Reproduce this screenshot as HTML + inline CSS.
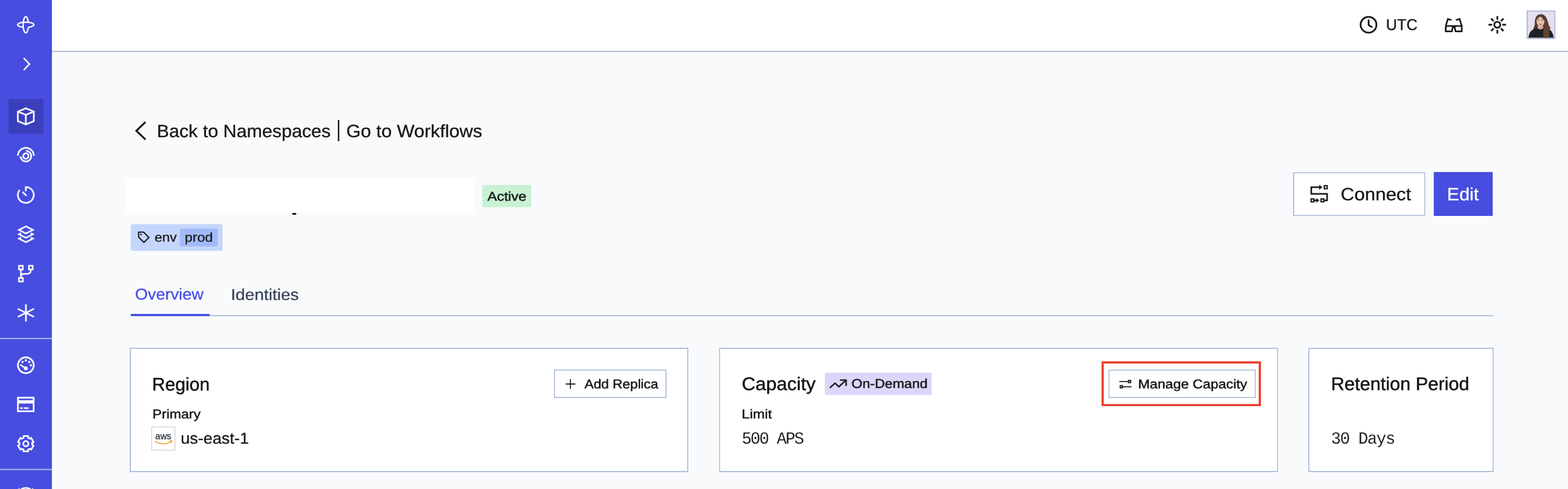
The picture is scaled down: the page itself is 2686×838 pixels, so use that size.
<!DOCTYPE html>
<html lang="en">
<head>
<meta charset="utf-8">
<title>Namespace – Temporal Cloud</title>
<style>
  html,body{margin:0;padding:0;overflow:hidden;}
  body{width:2686px;height:838px;overflow:hidden;position:relative;background:#F8FAFC;
       font-family:"Liberation Sans",sans-serif;color:#141414;}
  nav,header,main,section,div.wrap,h1,h2,p,a,button,ul,li{position:static;margin:0;padding:0;border:0;background:none;font:inherit;color:inherit;text-decoration:none;list-style:none;}
  #stage{position:absolute;left:0;top:0;width:3599.9px;height:1123.1px;overflow:hidden;transform:scale(0.746111);transform-origin:0 0;will-change:transform;}
  #page{position:absolute;left:0;top:0;width:2686px;height:838px;overflow:hidden;zoom:1.340283;}
  .bx{position:absolute;box-sizing:border-box;}
  .t{position:absolute;white-space:pre;line-height:1;text-rendering:geometricPrecision;transform-origin:0 50%;display:block;margin:0;font-weight:400;}
  svg{position:absolute;overflow:visible;display:block;}
  .side-bg{left:0;top:0;width:89px;height:838px;background:#464DDF;}
  .top-bg{left:89px;top:0;width:2597px;height:89px;background:#fff;border-bottom:2px solid #A4B4D6;}
  .btn{background:#fff;border:2px solid #A4B4D6;}
  .card{background:#fff;border:2px solid #A4B4D6;}
  .badge{border-radius:3px;}
</style>
</head>
<body>
<div id="stage"><div id="page">

<!-- ===== Sidebar ===== -->
<nav aria-label="Primary">
  <div class="bx side-bg"></div>
  <svg width="89" height="838" viewBox="0 0 89 838" style="left:0;top:0" aria-hidden="true"><rect x="14.6" y="169.7" width="59.4" height="59.3" fill="#3B3FBC"/><g fill="none" stroke="#fff" stroke-width="2.35"><path d="M48.43 46.68A4.5 13.9 0 1 1 48.43 38.12"/><path d="M48.43 46.68A13.9 4.5 0 1 0 39.87 46.68"/></g><path d="M40.6 99.5L50.5 109.75L40.6 120" fill="none" stroke="#fff" stroke-width="2.5"/><g fill="none" stroke="#fff" stroke-width="2.75" stroke-linejoin="miter"><path d="M44.25 185.6L57.85 191.2L57.85 207.6L44.25 213.2L30.65 207.6L30.65 191.2Z"/><path d="M30.65 191.2L44.25 196.8L57.85 191.2M44.25 196.8L44.25 213.2"/></g><g fill="none" stroke="#fff" stroke-width="2.8"><path d="M30.65 267A13.65 13.65 0 0 1 57.95 267"/><path d="M44.6 258.5A9.1 9.1 0 1 1 35.3 267.9"/><circle cx="44.3" cy="267.4" r="4.6"/></g><g fill="none" stroke="#fff" stroke-width="2.8"><path d="M44.2 327.5L44.2 320.5A13.6 13.6 0 1 1 33.63 325.54"/><path d="M38.6 328.9L45.3 335.3"/></g><g fill="none" stroke="#fff" stroke-width="2.7" stroke-linejoin="miter"><path d="M44.4 387.95L56.4 394L44.4 400.05L32.4 394Z"/><path d="M36 399.63L32.4 401.45L44.4 407.5L56.4 401.45L52.8 399.63"/><path d="M36 407.08L32.4 408.9L44.4 414.95L56.4 408.9L52.8 407.08"/></g><g fill="none" stroke="#fff" stroke-width="2.65"><rect x="32.52" y="455.43" width="6.65" height="6.25"/><rect x="49.33" y="455.43" width="6.65" height="6.25"/><rect x="32.52" y="476.12" width="6.65" height="6.35"/><path d="M35.85 463V474.8M52.65 463C52.65 467.5 50.5 469.3 46.5 469.3L41 469.3C37.6 469.3 35.85 471.4 35.85 474.8"/></g><g fill="none" stroke="#fff" stroke-width="2.8"><path d="M44.4 521.3V550.9M30.5 529.1L58.3 543.1M30.5 543.1L58.3 529.1"/></g><rect x="0" y="579" width="89" height="2" fill="#B3BBE3"/><circle cx="44.2" cy="625.9" r="13.55" fill="none" stroke="#fff" stroke-width="2.9"/><circle cx="38.6" cy="620.3" r="1.9" fill="#fff"/><circle cx="44.2" cy="617.5" r="1.9" fill="#fff"/><circle cx="50.0" cy="620.3" r="1.9" fill="#fff"/><circle cx="52.8" cy="625.9" r="1.9" fill="#fff"/><path d="M34.6 625.0L44.2 631.3" stroke="#fff" stroke-width="2.6" fill="none"/><circle cx="44.3" cy="631.3" r="3.4" fill="#fff"/><rect x="30.75" y="681.45" width="26.8" height="23.2" fill="none" stroke="#fff" stroke-width="2.9"/><rect x="30.3" y="685.8" width="27.7" height="5.6" fill="#fff"/><rect x="34.5" y="698.1" width="4.6" height="2.5" fill="#fff"/><rect x="41.0" y="698.1" width="8.2" height="2.5" fill="#fff"/><g fill="none" stroke="#fff" stroke-width="2.8" stroke-linejoin="round"><path d="M40.21 750.26L39.97 747.37L48.43 747.37L48.19 750.26L50.99 751.87L53.37 750.22L57.6 757.55L54.98 758.79L54.98 762.01L57.6 763.25L53.37 770.58L50.99 768.93L48.19 770.54L48.43 773.43L39.97 773.43L40.21 770.54L37.41 768.93L35.03 770.58L30.8 763.25L33.42 762.01L33.42 758.79L30.8 757.55L35.03 750.22L37.41 751.87Z"/><circle cx="44.2" cy="760.4" r="4.4" stroke-width="2.8"/></g><rect x="0" y="803.5" width="89" height="2" fill="#B3BBE3"/><circle cx="44.2" cy="849.6" r="13.6" fill="none" stroke="#fff" stroke-width="2.7"/><rect x="31.8" y="836.6" width="1.6" height="1.6" fill="#fff"/><rect x="55" y="836.6" width="1.6" height="1.6" fill="#fff"/></svg>
</nav>

<!-- ===== Top bar ===== -->
<header>
  <div class="bx top-bg"></div>
  <svg width="386" height="89" viewBox="2300 0 386 89" style="left:2300px;top:0" aria-hidden="true"><g fill="none" stroke="#141414" stroke-width="2.95"><circle cx="2344.1" cy="42.4" r="13.55"/><path d="M2344.1 33.3V42.9L2350.6 46.9"/></g><g fill="none" stroke="#141414" stroke-width="2.75" stroke-linejoin="miter"><path d="M2476.2 44.6H2503.7V53.8H2493.2L2491.2 44.6M2488.8 44.6L2486.8 53.8H2476.2V44.6"/><path d="M2476.2 44.6L2479.9 32.6L2486.2 34.3M2503.7 44.6L2500 32.6L2493.7 34.3"/><rect x="2487.8" y="44" width="4.4" height="3.6" fill="#141414" stroke="none"/></g><g fill="none" stroke="#141414" stroke-width="2.95"><circle cx="2564.6" cy="42.4" r="5.2"/><path d="M2573.3 42.4L2579.6 42.4M2570.75 48.55L2575.21 53.01M2564.6 51.1L2564.6 57.4M2558.45 48.55L2553.99 53.01M2555.9 42.4L2549.6 42.4M2558.45 36.25L2553.99 31.79M2564.6 33.7L2564.6 27.4M2570.75 36.25L2575.21 31.79"/></g><rect x="2615.0" y="18.0" width="49.0" height="48.8" fill="#A4B4D6"/><rect x="2616.7" y="19.7" width="45.6" height="45.4" fill="#E6DEEE"/><clipPath id="avc"><rect x="2616.7" y="19.7" width="45.6" height="45.4"/></clipPath><g clip-path="url(#avc)"><path d="M2638.4 24.36C2630.61 24.77 2628.56 32.97 2628.97 40.35C2628.97 44.45 2626.51 46.92 2626.51 49.38L2633.07 52.66L2651.94 52.66L2655.63 48.56C2655.22 45.27 2651.94 44.45 2651.12 37.89C2649.48 29.69 2645.38 23.95 2638.4 24.36Z" fill="#543A2C"/><path d="M2617.89 64.55C2619.13 55.94 2622.41 51.02 2630.61 48.56L2633.07 47.33C2636.35 51.02 2641.27 51.02 2644.56 47.33L2651.94 49.38C2657.68 51.84 2660.14 57.58 2661.37 64.55Z" fill="#1E2226"/><path d="M2633.89 44.45L2642.92 44.45L2643.33 48.56C2640.45 51.02 2636.35 51.02 2633.48 48.15Z" fill="#D9AE96"/><ellipse cx="2638.65" cy="36.66" rx="6.73" ry="8.86" fill="#E6BFA9"/><path d="M2642.1 28.87C2648.66 34.61 2647.02 44.45 2644.56 48.56C2642.1 54.3 2643.74 60.86 2643.33 64.55L2653.17 64.55C2654.4 55.94 2651.94 51.02 2655.22 47.74C2651.94 44.45 2651.94 34.61 2647.02 28.05Z" fill="#5F4333"/><path d="M2631.43 34.61C2632.25 28.05 2636.35 26 2639.63 26.41C2643.74 26.82 2646.2 31.33 2646.61 37.07C2643.74 33.79 2641.27 29.69 2638.4 28.46C2635.53 29.69 2633.07 32.15 2631.43 34.61Z" fill="#543A2C"/><ellipse cx="2635.29" cy="34.45" rx="1.2" ry="0.8" fill="#3a2a22"/><ellipse cx="2641.68" cy="34.45" rx="1.2" ry="0.8" fill="#3a2a22"/><path d="M2636.19 41.01Q2638.65 42.4 2641.27 41.01" stroke="#a5655a" stroke-width="1.2" fill="none"/></g></svg>
  <span class="t" style="left:2374.23px;top:29.14px;font-size:27.0px;transform:scaleX(0.9767);color:#141414;-webkit-text-stroke:0.3px currentColor;">UTC</span>
</header>

<!-- ===== Main ===== -->
<main>
  <!-- breadcrumb links -->
  <svg width="24" height="36" viewBox="228 205 24 36" style="left:228px;top:205px" aria-hidden="true"><path d="M248.9 208.9L233.2 223.9L248.9 238.9" fill="none" stroke="#141414" stroke-width="3.2"/></svg>
  <a><span class="t" style="left:268.48px;top:209.69px;font-size:30.5px;transform:scaleX(1.0339);color:#141414;-webkit-text-stroke:0.3px currentColor;">Back to Namespaces</span></a>
  <span class="t" style="left:575.9px;top:201.8px;font-size:38.6px;transform:scaleX(0.8);color:#141414;">|</span>
  <a><span class="t" style="left:592.91px;top:209.56px;font-size:30.5px;transform:scaleX(1.0443);color:#141414;-webkit-text-stroke:0.3px currentColor;">Go to Workflows</span></a>

  <!-- title row -->
  <div class="bx" style="left:216px;top:306px;width:597px;height:59px;background:#fff;"></div>
  <div class="bx" style="left:501px;top:364.6px;width:6px;height:3.2px;background:#141414;"></div>
  <div class="bx badge" style="left:826px;top:317px;width:84px;height:38px;background:#C9F1D4;"></div>
  <span class="t" style="left:835.00px;top:325.88px;font-size:21.9px;transform:scaleX(1.1216);color:#141414;-webkit-text-stroke:0.5px currentColor;">Active</span>
  <div class="bx btn" style="left:2215px;top:295.4px;width:226.5px;height:74.6px;"></div>
  <svg width="34" height="34" viewBox="2243 315 34 34" style="left:2243px;top:315px" aria-hidden="true"><g fill="none" stroke="#141414" stroke-width="2.6" stroke-linejoin="miter"><path d="M2260.22 321.03H2246.42V332.37H2273.51V343.49H2268.81"/><rect x="2268.79" y="318.4" width="4.89" height="5.04" stroke-width="2.2"/><rect x="2263.19" y="341.01" width="4.67" height="4.89" stroke-width="2.2"/><rect x="2246.17" y="341.01" width="4.74" height="4.89" stroke-width="2.2"/></g><path d="M2259.85 316.78L2265.6 321.03L2259.85 325.28Z" fill="#141414"/><path d="M2252.01 342.15H2255V339.46L2260.15 343.49L2255 347.45V344.84H2252.01Z" fill="#141414"/></svg>
  <button><span class="t" style="left:2296.58px;top:317.80px;font-size:30.5px;transform:scaleX(1.0638);color:#141414;-webkit-text-stroke:0.3px currentColor;">Connect</span></button>
  <div class="bx" style="left:2456px;top:295px;width:101px;height:75px;background:#464DDF;"></div>
  <button><span class="t" style="left:2478.24px;top:317.48px;font-size:30.5px;transform:scaleX(1.0422);color:#ffffff;-webkit-text-stroke:0.3px currentColor;">Edit</span></button>

  <!-- tag -->
  <div class="bx badge" style="left:224px;top:384.6px;width:157px;height:45px;background:#C5D6FC;"></div>
  <div class="bx badge" style="left:308px;top:392px;width:65.4px;height:30px;background:#A1BAF8;"></div>
  <svg width="24" height="24" viewBox="234 395 24 24" style="left:234px;top:395px" aria-hidden="true"><path d="M237.14 398.04H245.75L254.76 407.25L246.3 415.66L237.14 406.75Z" fill="none" stroke="#141414" stroke-width="2.15"/><circle cx="241.17" cy="402.02" r="1.4" fill="#141414"/></svg>
  <span class="t" style="left:265.02px;top:396.42px;font-size:22.0px;transform:scaleX(1.0668);color:#141414;-webkit-text-stroke:0.3px currentColor;">env</span>
  <span class="t" style="left:316.55px;top:396.42px;font-size:22.0px;transform:scaleX(1.0970);color:#141414;-webkit-text-stroke:0.3px currentColor;">prod</span>

  <!-- tabs -->
  <div class="bx" style="left:224px;top:540px;width:2334px;height:2px;background:#A4B4D6;"></div>
  <div class="bx" style="left:224px;top:538px;width:135px;height:4px;background:#464DDF;"></div>
  <a><span class="t" style="left:231.37px;top:491.04px;font-size:27.0px;transform:scaleX(1.0425);color:#444CE7;-webkit-text-stroke:0.3px currentColor;">Overview</span></a>
  <a><span class="t" style="left:395.48px;top:491.59px;font-size:27.0px;transform:scaleX(1.0780);color:#334155;-webkit-text-stroke:0.3px currentColor;">Identities</span></a>

  <!-- cards -->
  <section>
    <div class="bx card" style="left:222px;top:596px;width:957px;height:213px;"></div>
    <h2><span class="t" style="left:260.61px;top:643.10px;font-size:31.4px;transform:scaleX(0.9944);color:#141414;-webkit-text-stroke:0.5px currentColor;">Region</span></h2>
    <div class="bx btn" style="left:949.3px;top:633.5px;width:192.5px;height:48.2px;"></div>
    <svg width="20" height="20" viewBox="967 648 20 20" style="left:967px;top:648px" aria-hidden="true"><path d="M969.9 657.65H984.7M977.25 650.1V665.2" fill="none" stroke="#141414" stroke-width="1.9" stroke-linecap="round"/></svg>
    <button><span class="t" style="left:1001.23px;top:647.40px;font-size:21.9px;transform:scaleX(1.0696);color:#141414;-webkit-text-stroke:0.5px currentColor;">Add Replica</span></button>
    <p><span class="t" style="left:260.84px;top:698.89px;font-size:21.9px;transform:scaleX(1.0926);color:#141414;-webkit-text-stroke:0.5px currentColor;">Primary</span></p>
    <svg width="42" height="42" viewBox="259 730.5 42 42" style="left:259px;top:730.5px" role="img" aria-label="aws"><rect x="259.8" y="731.5" width="40" height="40" fill="#fff" stroke="#D8D8D8" stroke-width="1.6"/><text x="279.85" y="752.82" text-anchor="middle" font-family="Liberation Sans, sans-serif" font-size="15.8" font-weight="400" fill="#232F3E" textLength="27.6" lengthAdjust="spacingAndGlyphs" stroke="#232F3E" stroke-width="0.25">aws</text><path d="M265.3 756.18C272.39 761.55 285.82 762.3 292.91 756.7" fill="none" stroke="#F59B23" stroke-width="1.5"/><path d="M290.3 755.73L294.78 755.21L293.13 759.69" fill="none" stroke="#F59B23" stroke-width="1.3"/></svg>
    <p><span class="t" style="left:309.57px;top:737.74px;font-size:27.0px;transform:scaleX(1.0371);color:#141414;-webkit-text-stroke:0.3px currentColor;">us-east-1</span></p>
  </section>
  <section>
    <div class="bx card" style="left:1232px;top:596px;width:957px;height:213px;"></div>
    <h2><span class="t" style="left:1270.67px;top:642.62px;font-size:31.4px;transform:scaleX(1.0357);color:#141414;-webkit-text-stroke:0.5px currentColor;">Capacity</span></h2>
    <div class="bx badge" style="left:1413px;top:639px;width:183.2px;height:37.6px;background:#DDD5FA;"></div>
    <svg width="34" height="20" viewBox="1419 648 34 20" style="left:1419px;top:648px" aria-hidden="true"><path d="M1421.47 664.12L1430.43 656.31L1436.9 662.38L1448.84 651.33M1438.89 650.94H1449.33V660.79" fill="none" stroke="#141414" stroke-width="2.45"/></svg>
    <span class="t" style="left:1458.54px;top:646.76px;font-size:21.9px;transform:scaleX(1.0923);color:#141414;-webkit-text-stroke:0.5px currentColor;">On-Demand</span>
    <div class="bx" style="left:1887px;top:619px;width:273px;height:77px;border:4px solid #E8402A;"></div>
    <div class="bx btn" style="left:1898.8px;top:633.5px;width:252.4px;height:48.2px;"></div>
    <svg width="24" height="20" viewBox="1915 648 24 20" style="left:1915px;top:648px" aria-hidden="true"><g fill="none" stroke="#141414" stroke-width="1.9"><path d="M1917.8 653.47H1931.98M1923.52 662.43H1937.45" stroke-linecap="round"/><rect x="1932.78" y="651.54" width="3.72" height="3.82"/><rect x="1918.75" y="660.49" width="3.82" height="3.82"/></g></svg>
    <button><span class="t" style="left:1949.48px;top:647.35px;font-size:21.9px;transform:scaleX(1.0968);color:#141414;-webkit-text-stroke:0.5px currentColor;">Manage Capacity</span></button>
    <p><span class="t" style="left:1270.54px;top:698.89px;font-size:21.9px;transform:scaleX(1.1171);color:#141414;-webkit-text-stroke:0.5px currentColor;">Limit</span></p>
    <p><span class="t" style="left:1270.30px;top:738.07px;font-size:29.2px;transform:scaleX(0.9700);color:#141414;font-family:'Liberation Mono',monospace;-webkit-text-stroke:0.12px #fff;letter-spacing:-2.07px;">500 APS</span></p>
  </section>
  <section>
    <div class="bx card" style="left:2241.5px;top:596px;width:317px;height:213px;"></div>
    <h2><span class="t" style="left:2280.34px;top:642.22px;font-size:31.4px;transform:scaleX(1.0129);color:#141414;-webkit-text-stroke:0.5px currentColor;">Retention Period</span></h2>
    <p><span class="t" style="left:2280.23px;top:738.05px;font-size:29.2px;transform:scaleX(0.9700);color:#141414;font-family:'Liberation Mono',monospace;-webkit-text-stroke:0.12px #fff;letter-spacing:-1.50px;">30 Days</span></p>
  </section>
</main>
</div></div>
</body>
</html>
